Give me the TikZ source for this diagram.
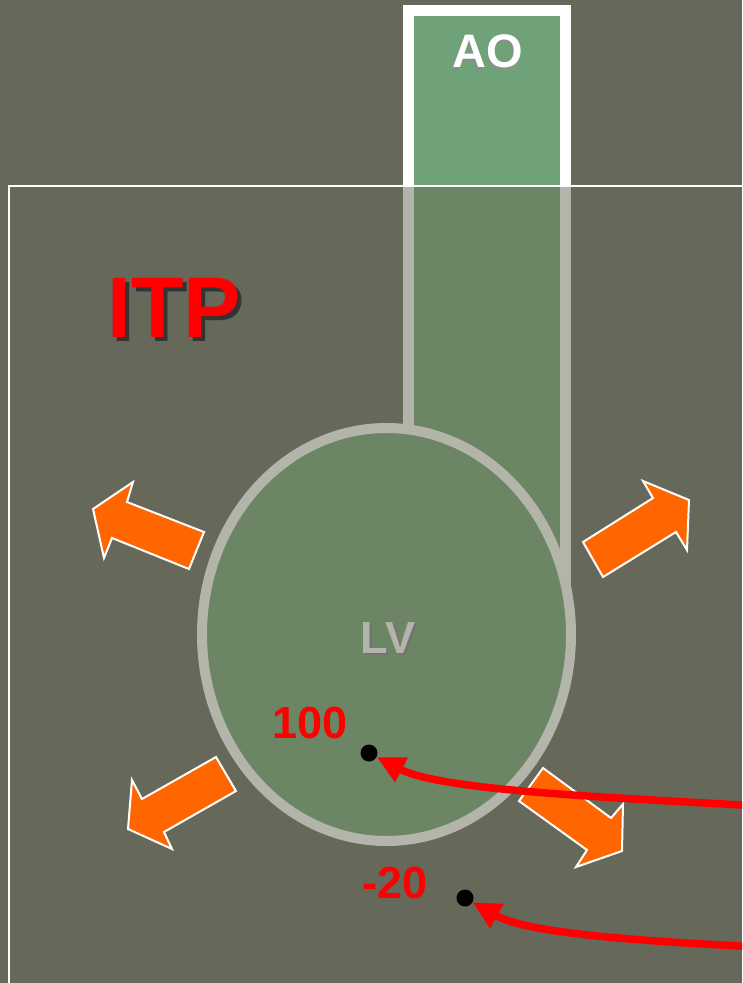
\documentclass[tikz,border=0pt]{standalone}
\usepackage{fontspec}
\setmainfont{Liberation Sans}
\usetikzlibrary{arrows.meta}
\definecolor{bgcol}{RGB}{102,104,89}
\definecolor{aogreen}{RGB}{111,162,121}
\definecolor{tubegreen}{RGB}{108,134,101}
\definecolor{wallgray}{RGB}{180,181,170}
\definecolor{orangeA}{RGB}{255,102,0}
\definecolor{redA}{RGB}{255,0,0}
\tikzset{
  blockarrow/.style={fill=orangeA, draw=white, line width=2pt, line join=miter},
  wall/.style={draw=wallgray, line width=11pt},
  dotnode/.style={circle, fill=black, inner sep=0pt, minimum size=17pt},
  redarrow/.style={draw=redA, line width=7.5pt, -{Triangle[length=28pt,width=26pt]}},
  bigtext/.style={font=\bfseries\fontsize{86}{86}\selectfont, anchor=base, inner sep=0pt},
  midtext/.style={font=\bfseries\fontsize{47}{47}\selectfont, anchor=base, inner sep=0pt},
  numtext/.style={font=\bfseries\fontsize{45}{45}\selectfont, anchor=base, inner sep=0pt, text=redA},
}
\begin{document}
\begin{tikzpicture}[x=1pt,y=-1pt]
\useasboundingbox (0,0) rectangle (742,983);
\clip (0,0) rectangle (742,983);
\fill[bgcol] (0,0) rectangle (742,983);
% AO box
\fill[aogreen] (408.5,10) rectangle (565.5,186);
\draw[white, line width=11pt, line join=miter] (408.5,186) -- (408.5,10) -- (565.5,10) -- (565.5,186);
% tube
\fill[tubegreen] (408.5,186) rectangle (565.5,634);
\draw[wall] (408.5,186) -- (408.5,634);
\draw[wall] (565.5,186) -- (565.5,634);
% ITP box
\draw[white, line width=2pt] (8.5,1000) -- (8.5,186) -- (760,186);
% LV ellipse
\draw[fill=tubegreen, draw=wallgray, line width=10pt] (386.5,634.5) ellipse [x radius=184.5pt, y radius=206.5pt];
% orange block arrows
\draw[blockarrow] (93,509) -- (133,482) -- (127,502) -- (204,532) -- (189,569) -- (112,538) -- (104,558) -- cycle;
\draw[blockarrow] (583,542) -- (653,498) -- (643,481) -- (689,500) -- (687,550) -- (676,532) -- (603,577) -- cycle;
\draw[blockarrow] (216,757) -- (236,791) -- (164,832) -- (172,849) -- (128,829) -- (132,780) -- (142,799) -- cycle;
\draw[blockarrow] (543,768) -- (611,818) -- (623,804) -- (622,851) -- (576,867) -- (587,850) -- (519,801) -- cycle;
% texts
\node[bigtext, text=black!80] (itpS) at (178,341) {ITP};
\node[bigtext, text=redA] (itp) at (174,337) {ITP};
\node[midtext, text=black!45] (aoS) at (486.5,69.5) {AO};
\node[midtext, text=white] (ao) at (488,67) {AO};
\node[midtext, text=black!55, font=\bfseries\fontsize{45}{45}\selectfont] (lvS) at (390,655.5) {LV};
\node[midtext, text=wallgray, font=\bfseries\fontsize{45}{45}\selectfont] (lv) at (388,653) {LV};
\node[numtext] (n100) at (310,738) {100};
\node[numtext] (n20) at (395,898) {-20};
% dots and red arrows
\node[dotnode] (d1) at (369,753) {};
\node[dotnode] (d2) at (465,898) {};
\coordinate (s1) at (750,805.5);
\coordinate (s2) at (750,946.5);
\draw[redarrow] (s1) .. controls (600,797) and (440,790) .. (d1);
\draw[redarrow] (s2) .. controls (620,940) and (525,932) .. (d2);
\end{tikzpicture}
\end{document}
